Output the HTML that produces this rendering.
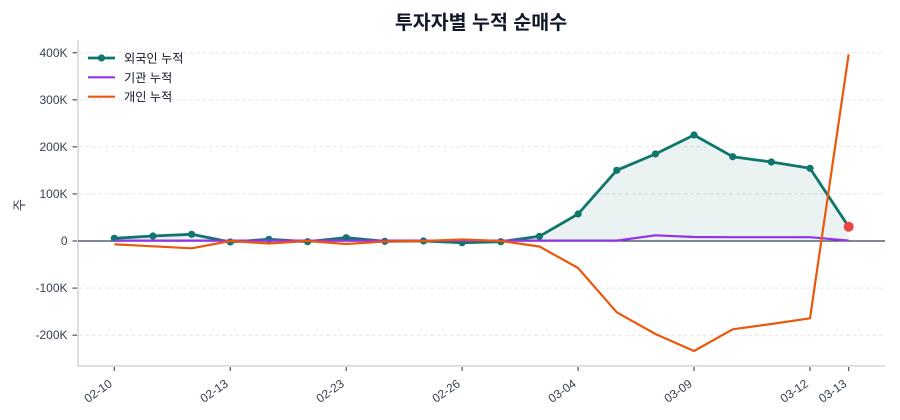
<!DOCTYPE html>
<html><head><meta charset="utf-8"><style>
html,body{margin:0;padding:0;background:#fff;}
svg{display:block;font-family:"Liberation Sans","Noto Sans CJK KR",sans-serif;}
</style></head><body>
<svg width="900" height="420" viewBox="0 0 900 420" xmlns="http://www.w3.org/2000/svg">
<rect width="900" height="420" fill="#fff"/>
<text x="481" y="29" text-anchor="middle" font-size="19.5" font-weight="bold" fill="#111827" font-family="'Liberation Sans','Noto Sans CJK KR',sans-serif">투자자별 누적 순매수</text>
<g stroke="#e5e7eb" stroke-width="1" stroke-dasharray="4,2.5">
<line x1="79" x2="884" y1="52.7" y2="52.7"/>
<line x1="79" x2="884" y1="99.8" y2="99.8"/>
<line x1="79" x2="884" y1="146.8" y2="146.8"/>
<line x1="79" x2="884" y1="193.9" y2="193.9"/>
<line x1="79" x2="884" y1="288.1" y2="288.1"/>
<line x1="79" x2="884" y1="335.2" y2="335.2"/>
</g>
<line x1="78" x2="78" y1="40" y2="366" stroke="#d1d5db" stroke-width="1.5"/>
<line x1="78" x2="885" y1="366" y2="366" stroke="#d1d5db" stroke-width="1.5"/>
<g stroke="#4b5563" stroke-width="1.2">
<line x1="72.5" x2="77" y1="52.7" y2="52.7"/>
<line x1="72.5" x2="77" y1="99.8" y2="99.8"/>
<line x1="72.5" x2="77" y1="146.8" y2="146.8"/>
<line x1="72.5" x2="77" y1="193.9" y2="193.9"/>
<line x1="72.5" x2="77" y1="241" y2="241"/>
<line x1="72.5" x2="77" y1="288.1" y2="288.1"/>
<line x1="72.5" x2="77" y1="335.2" y2="335.2"/>
</g>
<g font-size="12" fill="#374151" text-anchor="end">
<text x="67.5" y="57">400K</text>
<text x="67.5" y="104">300K</text>
<text x="67.5" y="151">200K</text>
<text x="67.5" y="198">100K</text>
<text x="67.5" y="245">0</text>
<text x="67.5" y="292">-100K</text>
<text x="67.5" y="339">-200K</text>
</g>
<text transform="translate(24,205) rotate(-90)" text-anchor="middle" font-size="13" fill="#374151">주</text>
<g stroke="#4b5563" stroke-width="1.2">
<line x1="114.3" x2="114.3" y1="367" y2="371"/>
<line x1="230.25" x2="230.25" y1="367" y2="371"/>
<line x1="346.2" x2="346.2" y1="367" y2="371"/>
<line x1="462.15" x2="462.15" y1="367" y2="371"/>
<line x1="578.1" x2="578.1" y1="367" y2="371"/>
<line x1="694.05" x2="694.05" y1="367" y2="371"/>
<line x1="810" x2="810" y1="367" y2="371"/>
<line x1="848.65" x2="848.65" y1="367" y2="371"/>
</g>
<g font-size="12" fill="#374151" text-anchor="end">
<text transform="translate(113,385.5) rotate(-35)">02-10</text>
<text transform="translate(229,385.5) rotate(-35)">02-13</text>
<text transform="translate(345,385.5) rotate(-35)">02-23</text>
<text transform="translate(461,385.5) rotate(-35)">02-26</text>
<text transform="translate(577,385.5) rotate(-35)">03-04</text>
<text transform="translate(693,385.5) rotate(-35)">03-09</text>
<text transform="translate(809,385.5) rotate(-35)">03-12</text>
<text transform="translate(847.5,385.5) rotate(-35)">03-13</text>
</g>
<polygon fill="#0f766e" fill-opacity="0.085" points="114.3,238.3 152.95,236 191.6,234.3 230.25,242 268.9,239.3 307.55,241.7 346.2,237.7 384.85,241.3 423.5,241 462.15,242.7 500.8,241.7 539.45,236.3 578.1,214 616.75,170.3 655.4,154 694.05,135 732.7,156.7 771.35,162 810,168.3 848.65,226.7 848.65,241 114.3,241"/>
<line x1="78" x2="885" y1="241" y2="241" stroke="#374151" stroke-width="1.3"/>
<polyline fill="none" stroke="#0f766e" stroke-width="2.8" stroke-linejoin="round" points="114.3,238.3 152.95,236 191.6,234.3 230.25,242 268.9,239.3 307.55,241.7 346.2,237.7 384.85,241.3 423.5,241 462.15,242.7 500.8,241.7 539.45,236.3 578.1,214 616.75,170.3 655.4,154 694.05,135 732.7,156.7 771.35,162 810,168.3 848.65,226.7"/>
<g fill="#0f766e">
<circle cx="114.3" cy="238.3" r="3.6"/><circle cx="152.95" cy="236" r="3.6"/><circle cx="191.6" cy="234.3" r="3.6"/><circle cx="230.25" cy="242" r="3.6"/><circle cx="268.9" cy="239.3" r="3.6"/><circle cx="307.55" cy="241.7" r="3.6"/><circle cx="346.2" cy="237.7" r="3.6"/><circle cx="384.85" cy="241.3" r="3.6"/><circle cx="423.5" cy="241" r="3.6"/><circle cx="462.15" cy="242.7" r="3.6"/><circle cx="500.8" cy="241.7" r="3.6"/><circle cx="539.45" cy="236.3" r="3.6"/><circle cx="578.1" cy="214" r="3.6"/><circle cx="616.75" cy="170.3" r="3.6"/><circle cx="655.4" cy="154" r="3.6"/><circle cx="694.05" cy="135" r="3.6"/><circle cx="732.7" cy="156.7" r="3.6"/><circle cx="771.35" cy="162" r="3.6"/><circle cx="810" cy="168.3" r="3.6"/><circle cx="848.65" cy="226.7" r="3.6"/>
</g>
<polyline fill="none" stroke="#9333ea" stroke-width="2.2" stroke-linejoin="round" points="114.3,240.6 152.95,240.6 191.6,240.6 230.25,240.6 268.9,240.6 307.55,240.6 346.2,240.6 384.85,240.6 423.5,240.6 462.15,240.6 500.8,240.6 539.45,240.6 578.1,240.6 616.75,240.6 655.4,235.3 694.05,237 732.7,237.2 771.35,237.2 810,237.2 848.65,240.6"/>
<polyline fill="none" stroke="#ea580c" stroke-width="2.2" stroke-linejoin="round" points="114.3,244.3 152.95,246.3 191.6,248.3 230.25,241 268.9,243.5 307.55,241 346.2,244 384.85,241.5 423.5,241 462.15,239.5 500.8,241 539.45,246.5 578.1,268 616.75,312.3 655.4,334 694.05,351 732.7,329.3 771.35,324 810,318.3 848.65,54.3"/>
<circle cx="848.65" cy="226.7" r="5" fill="#ef4444"/>
<g>
<line x1="88" x2="115" y1="58" y2="58" stroke="#0f766e" stroke-width="2.8"/>
<circle cx="101.5" cy="58" r="3.6" fill="#0f766e"/>
<line x1="88" x2="115" y1="77.3" y2="77.3" stroke="#9333ea" stroke-width="2.2"/>
<line x1="88" x2="115" y1="96.7" y2="96.7" stroke="#ea580c" stroke-width="2.2"/>
<g font-size="12.2" fill="#111827">
<text x="124" y="62.5">외국인 누적</text>
<text x="124" y="81.8">기관 누적</text>
<text x="124" y="101.2">개인 누적</text>
</g>
</g>
</svg>
</body></html>
